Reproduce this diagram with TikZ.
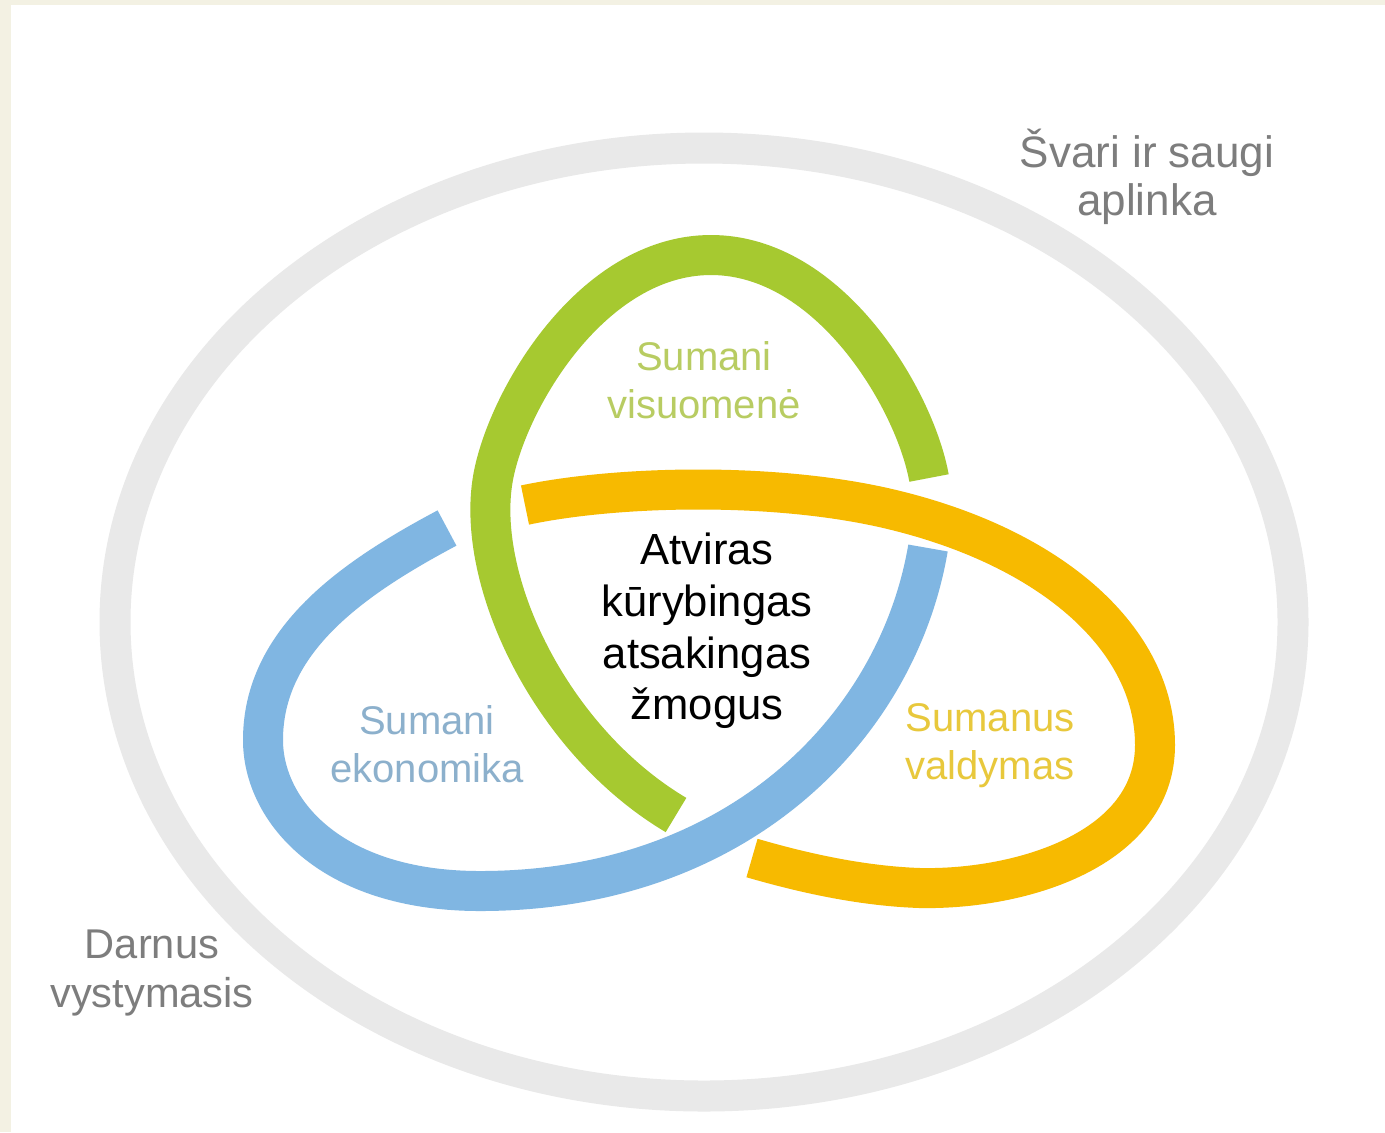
\documentclass[tikz,border=0pt]{standalone}
\usepackage{fontspec}
\setmainfont{Liberation Sans}
\definecolor{cream}{RGB}{243,241,227}
\definecolor{ringgray}{RGB}{233,233,233}
\definecolor{ringgreen}{RGB}{166,201,48}
\definecolor{ringorange}{RGB}{247,186,0}
\definecolor{ringblue}{RGB}{128,182,226}
\definecolor{txtgray}{RGB}{125,125,125}
\definecolor{txtgreen}{RGB}{184,204,98}
\definecolor{txtblue}{RGB}{140,176,204}
\definecolor{txtyellow}{RGB}{232,200,60}
\tikzset{
  band/.style={line width=20pt, line cap=butt},
  outerband/.style={line width=15.5pt, draw=ringgray},
  lbl/.style={align=center, inner sep=0pt, font=\fontsize{20}{24}\selectfont},
  graylbl/.style={align=center, inner sep=0pt, text=txtgray, font=\fontsize{22}{24}\selectfont},
  graylblsm/.style={align=center, inner sep=0pt, text=txtgray, font=\fontsize{20.8}{24.5}\selectfont},
  mainlbl/.style={align=center, inner sep=0pt, text=black, font=\fontsize{21.8}{25.8}\selectfont}
}
\begin{document}
\begin{tikzpicture}[x=0.5pt,y=-0.5pt]
\useasboundingbox (0,0) rectangle (1385,1132);
\fill[cream] (0,0) rectangle (1385,1132);
\fill[white] (11,5) rectangle (1385,1132);
% outer gray ring
\draw[outerband] (704,622) ellipse [x radius=589, y radius=474];
% green arc
\draw[band, draw=ringgreen] (929,478)
  .. controls (915,400) and (830,255) .. (711,255)
  .. controls (592,255) and (507,400) .. (493,478)
  .. controls (475,580) and (550,740) .. (676,815);
% orange arc
\draw[band, draw=ringorange] (525,505)
  .. controls (620,485) and (780,482) .. (894,510)
  .. controls (1054,549) and (1155,640) .. (1155,745)
  .. controls (1155,850) and (1020,890) .. (920,888)
  .. controls (860,886) and (800,872) .. (752,858);
% blue arc
\draw[band, draw=ringblue] (447,528)
  .. controls (353,578) and (263,640) .. (263,740)
  .. controls (263,810) and (330,891) .. (480,891)
  .. controls (740,891) and (898,725) .. (928,548);
% labels
\node[graylbl] (env) at (1147,177) {Švari ir saugi\\aplinka};
\node[graylblsm] (dev) at (152,973) {Darnus\\vystymasis};
\node[lbl, text=txtgreen] (soc) at (704,380) {Sumani\\visuomenė};
\node[lbl, text=txtblue] (eco) at (427,744) {Sumani\\ekonomika};
\node[lbl, text=txtyellow] (gov) at (990,746) {Sumanus\\valdymas};
\node[mainlbl] (man) at (707,631) {Atviras\\kūrybingas\\atsakingas\\žmogus};
\end{tikzpicture}
\end{document}
